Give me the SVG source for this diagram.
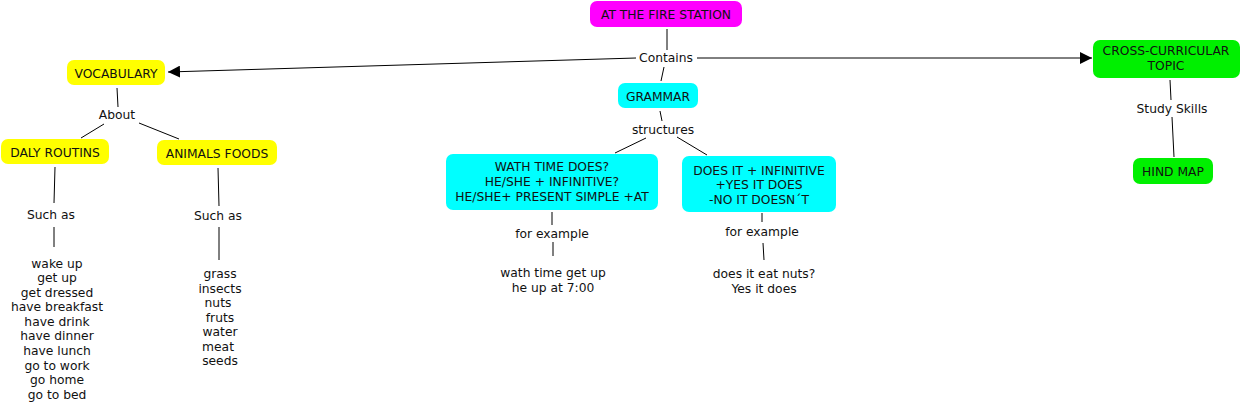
<svg xmlns="http://www.w3.org/2000/svg" width="1244" height="410" viewBox="0 0 1244 410">
<defs>
<marker id="arr" viewBox="0 0 10 10" refX="10" refY="5" markerWidth="12" markerHeight="12" markerUnits="userSpaceOnUse" orient="auto">
<path d="M0,0 L10,5 L0,10 z" fill="#000"/>
</marker>
<style>
text{font-family:"DejaVu Sans",Verdana,sans-serif;font-size:12.3px;fill:#111;text-anchor:middle;dominant-baseline:central}
.box{stroke:none}
.mag{fill:#ff00ff}.yel{fill:#ffff00}.cya{fill:#00ffff}.grn{fill:#00f000}
.ln{stroke:#000;stroke-width:1;fill:none}
</style>
</defs>
<rect width="1244" height="410" fill="#fff"/>
<g id="connectors">
<line class="ln" x1="667" y1="29" x2="667" y2="50"/>
<line class="ln" x1="636" y1="58" x2="168" y2="72" marker-end="url(#arr)"/>
<line class="ln" x1="697" y1="58" x2="1092" y2="58" marker-end="url(#arr)"/>
<line class="ln" x1="664" y1="67" x2="661" y2="81"/>
<line class="ln" x1="660" y1="111" x2="662" y2="121"/>
<line class="ln" x1="646" y1="138" x2="615" y2="153"/>
<line class="ln" x1="677" y1="137" x2="707" y2="155"/>
<line class="ln" x1="552" y1="212" x2="552" y2="225"/>
<line class="ln" x1="553" y1="242" x2="553" y2="256"/>
<line class="ln" x1="762" y1="213" x2="762" y2="222"/>
<line class="ln" x1="763" y1="243" x2="764" y2="260"/>
<line class="ln" x1="117" y1="88" x2="118" y2="107"/>
<line class="ln" x1="104" y1="124" x2="81" y2="138"/>
<line class="ln" x1="139" y1="123" x2="179" y2="139"/>
<line class="ln" x1="55" y1="167" x2="54" y2="203"/>
<line class="ln" x1="54" y1="227" x2="54" y2="247"/>
<line class="ln" x1="218" y1="168" x2="219" y2="206"/>
<line class="ln" x1="219" y1="227" x2="219" y2="260"/>
<line class="ln" x1="1170" y1="80" x2="1171" y2="100"/>
<line class="ln" x1="1172" y1="117" x2="1174" y2="157"/>
</g>
<g id="n-fire"><rect class="box mag" x="590" y="1" width="152" height="26" rx="7"/><text x="666" y="14.5">AT THE FIRE STATION</text></g>
<g id="l-contains"><text x="666" y="57.5">Contains</text></g>
<g id="n-grammar"><rect class="box cya" x="618" y="83" width="80" height="25" rx="7"/><text x="658" y="96.5">GRAMMAR</text></g>
<g id="l-structures"><text x="663" y="129.5">structures</text></g>
<g id="n-wath"><rect class="box cya" x="446" y="154" width="212" height="56" rx="7"/>
<text x="552" y="166.5">WATH TIME DOES?</text><text x="552" y="181.5">HE/SHE + INFINITIVE?</text><text x="552" y="196.5">HE/SHE+ PRESENT SIMPLE +AT</text></g>
<g id="n-doesit"><rect class="box cya" x="682" y="156" width="154" height="56" rx="7"/>
<text x="759" y="170.5">DOES IT + INFINITIVE</text><text x="759" y="184.5">+YES IT DOES</text><text x="759" y="199.5">-NO IT DOESN´T</text></g>
<g id="l-forex1"><text x="552" y="233.5">for example</text></g>
<g id="n-ex1"><text x="553" y="272.5">wath time get up</text><text x="553" y="287.5">he up at 7:00</text></g>
<g id="l-forex2"><text x="762" y="231.5">for example</text></g>
<g id="n-ex2"><text x="764" y="273.5">does it eat nuts?</text><text x="764" y="288.5">Yes it does</text></g>
<g id="n-vocab"><rect class="box yel" x="67" y="60" width="98" height="25" rx="7"/><text x="116" y="73.5">VOCABULARY</text></g>
<g id="l-about"><text x="117" y="114.5">About</text></g>
<g id="n-daly"><rect class="box yel" x="1" y="139" width="108" height="25" rx="7"/><text x="55" y="152.5">DALY ROUTINS</text></g>
<g id="n-animals"><rect class="box yel" x="157" y="140" width="120" height="25" rx="7"/><text x="217" y="153.5">ANIMALS FOODS</text></g>
<g id="l-such1"><text x="51" y="214.5">Such as</text></g>
<g id="l-such2"><text x="218" y="215.5">Such as</text></g>
<g id="n-routines">
<text x="57" y="263.5">wake up</text><text x="57" y="277.5">get up</text><text x="57" y="292.5">get dressed</text><text x="57" y="306.5">have breakfast</text><text x="57" y="321.5">have drink</text><text x="57" y="335.5">have dinner</text><text x="57" y="350.5">have lunch</text><text x="57" y="365.5">go to work</text><text x="57" y="379.5">go home</text><text x="57" y="394.5">go to bed</text>
</g>
<g id="n-foods">
<text x="220" y="273.5">grass</text><text x="220" y="288.5">insects</text><text x="218" y="302.5">nuts</text><text x="220" y="317.5">fruts</text><text x="220" y="331.5">water</text><text x="218" y="346.5">meat</text><text x="220" y="360.5">seeds</text>
</g>
<g id="n-cross"><rect class="box grn" x="1093" y="40" width="147" height="38" rx="7"/><text x="1166" y="50.5">CROSS-CURRICULAR</text><text x="1166" y="65.5">TOPIC</text></g>
<g id="l-study"><text x="1172" y="108.5">Study Skills</text></g>
<g id="n-hind"><rect class="box grn" x="1133" y="158" width="80" height="26" rx="7"/><text x="1173" y="171.5">HIND MAP</text></g>
</svg>
